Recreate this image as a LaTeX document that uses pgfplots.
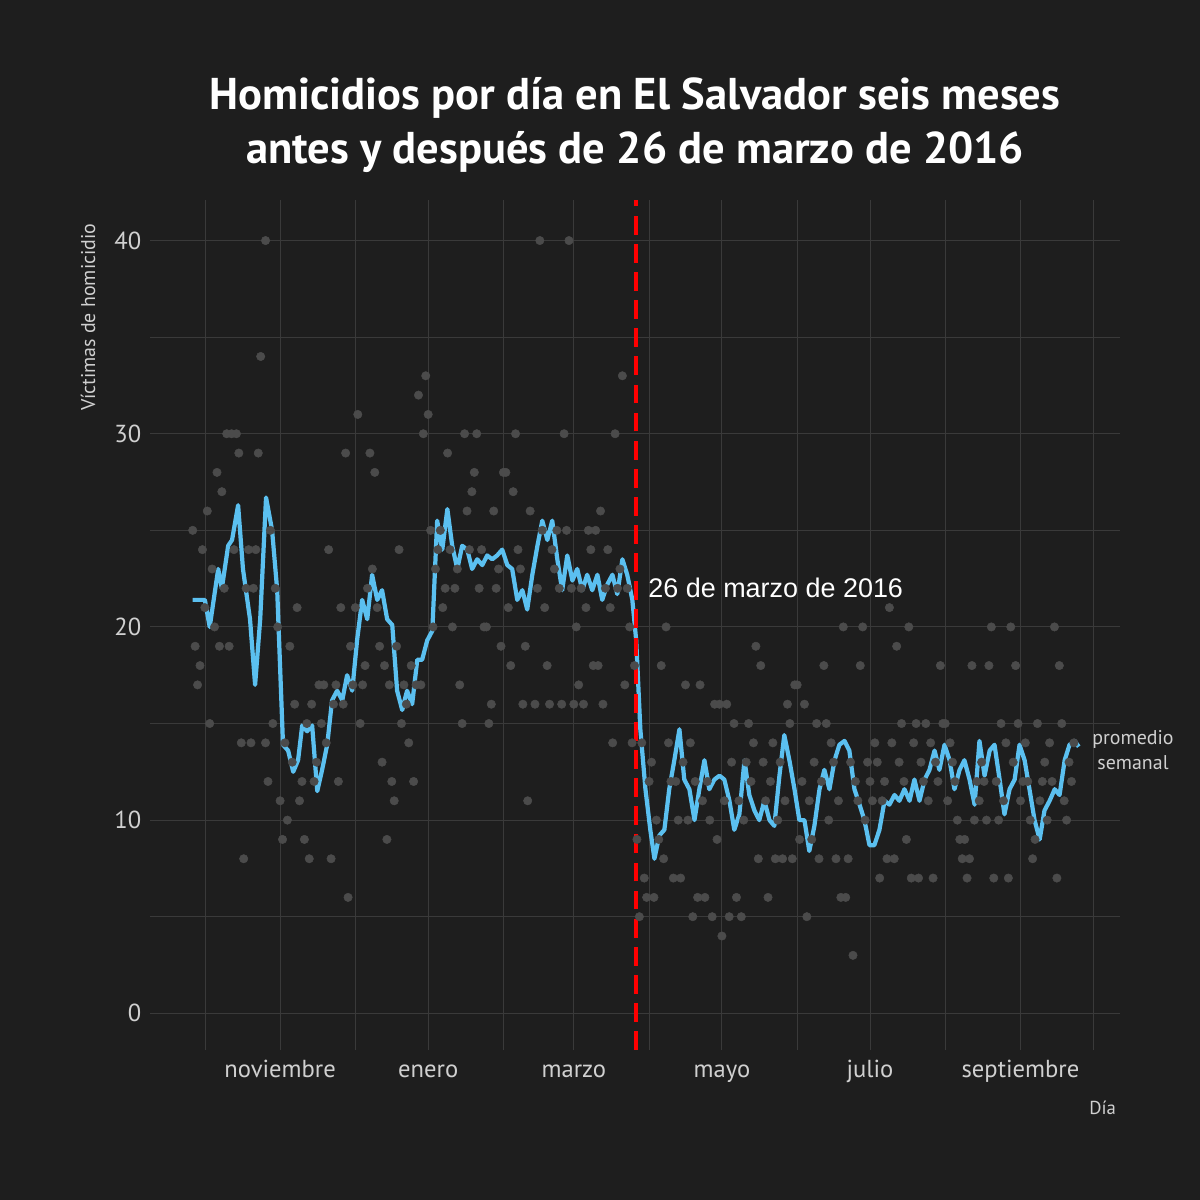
\documentclass[border=0pt]{standalone}
\usepackage{pgfplots}
\pgfplotsset{compat=1.18}
\usepackage{fontspec}
\setmainfont{PT Sans}
\newfontfamily\helv{Liberation Sans}
\definecolor{bg}{HTML}{1E1E1E}
\definecolor{gridc}{HTML}{3A3A3A}
\definecolor{pts}{HTML}{4B4B4B}
\definecolor{lineblue}{HTML}{5BC0F0}
\definecolor{txt}{HTML}{D0D0D0}
\begin{document}
\begin{tikzpicture}
\fill[bg] (0,0) rectangle (360mm,360mm);
\node[white,font=\fontsize{38}{46}\selectfont\bfseries,align=center] at (190.5mm,322.5mm) {Homicidios por día en El Salvador seis meses\\antes y después de 26 de marzo de 2016};
\begin{axis}[at={(45mm,45mm)},anchor=south west,scale only axis,
 width=291mm,height=255mm,
 xmin=-53.6,xmax=346,ymin=-1.9,ymax=42.1,
 axis line style={draw=none},tick style={draw=none},
 grid=both,major grid style={draw=gridc,line width=0.8pt},minor grid style={draw=gridc,line width=0.5pt},
 xtick={0,61,121,182,243,305},
 xticklabels={noviembre,enero,marzo,mayo,julio,septiembre},
 minor xtick={-31,31,92,152,213,274,335},
 ytick={0,10,20,30,40},minor ytick={5,15,25,35},
 ticklabel style={text=txt,font=\fontsize{21}{25}\selectfont},
 /pgf/number format/assume math mode=true,
 yticklabel style={xshift=-4pt},xticklabel style={yshift=-4pt,text height=16pt,text depth=5pt},
 clip=false]
\addplot[only marks,mark=*,mark size=3.6pt,draw=pts,fill=pts] coordinates {
(-36,25)(-35,19)(-34,17)(-33,18)(-32,24)(-31,21)(-30,26)(-29,15)(-28,23)(-27,20)(-26,28)(-25,19)(-24,27)(-23,22)(-22,30)(-21,19)(-20,30)(-19,24)(-18,30)(-17,29)(-16,14)(-15,8)(-14,22)(-13,24)(-12,14)(-11,22)(-10,24)(-9,29)(-8,34)(-6,40)(-6,14)(-5,12)(-4,25)(-3,15)(-2,22)(-1,20)(0,11)(1,9)(2,14)(3,10)(4,19)(5,13)(6,16)(7,21)(8,11)(9,12)(10,9)(11,15)(12,8)(13,16)(14,12)(15,13)(16,17)(17,15)(18,17)(19,14)(20,24)(21,8)(22,16)(23,17)(24,12)(25,21)(26,16)(27,29)(28,6)(29,19)(30,17)(31,21)(32,31)(33,15)(34,17)(35,18)(36,22)(37,29)(38,23)(39,28)(40,21)(41,19)(42,13)(43,18)(44,9)(45,17)(46,12)(47,11)(48,19)(49,24)(50,15)(51,17)(52,16)(53,14)(54,18)(55,12)(56,17)(57,32)(58,17)(59,30)(60,33)(61,31)(62,25)(63,20)(64,23)(65,24)(66,25)(67,21)(68,22)(69,29)(70,24)(71,20)(72,22)(73,23)(74,17)(75,15)(76,30)(77,26)(78,24)(79,27)(80,28)(81,30)(82,22)(83,24)(84,20)(85,20)(86,15)(87,16)(88,26)(89,22)(90,23)(91,19)(92,28)(93,28)(94,21)(95,18)(96,27)(97,30)(98,24)(99,23)(100,16)(101,19)(102,11)(103,26)(105,16)(106,22)(107,40)(108,25)(109,21)(110,18)(111,16)(112,24)(113,23)(114,25)(115,22)(116,16)(117,30)(118,25)(119,40)(120,22)(121,16)(122,20)(123,17)(124,22)(125,16)(126,21)(127,25)(128,24)(129,18)(130,25)(131,18)(132,26)(133,16)(134,22)(135,24)(136,21)(137,14)(138,30)(139,22)(140,23)(141,33)(142,17)(143,22)(144,20)(145,14)(146,18)
(147,9)(148,5)(149,14)(150,7)(151,6)(152,12)(153,13)(154,6)(155,10)(156,9)(157,18)(158,8)(159,20)(160,14)(161,12)(162,7)(163,12)(164,10)(165,7)(166,13)(167,17)(168,10)(169,14)(170,5)(171,12)(172,6)(173,17)(174,11)(175,6)(176,12)(177,10)(178,5)(179,16)(180,9)(181,16)(182,4)(183,11)(184,16)(185,5)(186,13)(187,15)(188,6)(189,11)(190,5)(191,10)(192,13)(193,15)(194,12)(195,14)(196,19)(197,8)(198,18)(199,13)(200,11)(201,6)(202,12)(203,14)(204,8)(205,10)(206,13)(207,8)(208,11)(209,16)(210,15)(211,8)(212,17)(213,17)(214,9)(215,12)(216,16)(217,5)(218,11)(219,9)(220,13)(221,15)(222,8)(223,12)(224,18)(225,15)(226,10)(227,14)(228,13)(229,8)(230,11)(231,6)(232,20)(233,6)(234,8)(235,13)(236,3)(237,12)(238,11)(239,18)(240,20)(241,10)(242,13)(243,12)(244,11)(245,14)(246,13)(247,7)(248,11)(249,12)(250,8)(251,21)(252,14)(253,8)(254,19)(255,13)(256,15)(257,12)(258,9)(259,20)(260,7)(261,14)(262,15)(263,7)(264,13)(265,12)(266,15)(267,11)(268,14)(269,7)(270,13)(271,12)(272,18)(273,15)(274,15)(275,11)(276,14)(277,13)(278,12)(279,10)(280,9)(281,8)(282,9)(283,7)(284,8)(285,18)(286,10)(287,12)(288,11)(289,13)(290,12)(291,10)(292,18)(293,20)(294,7)(295,12)(296,10)(297,15)(298,11)(299,14)(300,7)(301,20)(302,13)(303,18)(304,15)(305,11)(306,12)(307,14)(308,12)(309,10)(310,8)(311,9)(312,15)(313,11)(314,12)(315,13)(316,10)(317,14)(318,12)(319,20)(320,7)(321,18)(322,15)(323,11)(324,10)(325,13)(326,12)(327,14)
};
\addplot[lineblue,line width=3.6pt,line join=round] coordinates {
(-36,21.4)(-31,21.4)(-29,20)(-25.5,23)(-24,22)(-21.4,24.2)(-19.8,24.5)(-17.3,26.3)(-15.3,23)(-12.4,20.4)(-10.3,17)(-8.2,20.4)(-5.8,26.7)(-3.3,25)(-1.2,21.9)(1.2,13.9)(3.3,13.6)(5.4,12.5)(7.4,13.1)(9.1,14.9)(11.1,14.6)(13.2,14.9)(15.3,11.5)(17.3,12.6)(19.4,13.9)(21.4,16.2)(23.5,16.7)(25.6,16.2)(27.6,17.5)(29.7,16.7)(31.7,19.3)(33.8,21.4)(35.9,20.4)(37.9,22.7)(40,21.4)(42,21.9)(44.1,20.4)(46.2,20.1)(48.2,16.7)(50.3,15.7)(52.3,16.7)(54.4,16)(56.5,18.3)(58.5,18.3)(60.6,19.3)(62.7,19.8)(64.7,25.5)(66.8,24)(68.9,26.1)(70.9,24.2)(73,23)(75,24.2)(77.1,24)(79.1,23)(81.2,23.5)(83.3,23.2)(85.3,23.7)(87.4,23.5)(89.4,23.7)(91.5,24)(93.6,23.2)(95.6,23)(97.7,21.4)(99.8,21.9)(101.8,20.9)(103.9,22.7)(106,24.2)(108,25.5)(110.1,24.5)(112.1,25.5)(114.2,23.5)(116.2,21.9)(118.3,23.7)(120.4,22.4)(122.4,23)(124.5,21.9)(126.5,22.7)(128.6,21.9)(130.7,22.7)(132.7,21.4)(134.8,22.2)(136.9,22.7)(138.9,21.7)(141,23.5)(143,22.7)(145.1,21.4)(146.7,19.3)(148.4,14.7)(150.5,11.6)(152.5,9.5)(154.2,8)(156.2,9.2)(158.3,9.5)(160.3,11.6)(162.4,13.1)(164.5,14.7)(166.5,12.1)(168.6,11.6)(170.7,10)(172.7,11.6)(174.8,13.1)(176.8,11.6)(178.9,12.1)(181,12.3)(183,12.1)(185.1,11)(187.1,9.5)(189.2,10.3)(191.3,13.1)(193.3,11.3)(195.4,10.5)(197.4,10)(199.5,11)(201.6,10)(203.6,9.7)(205.7,12.3)(207.7,14.4)(209.8,13.1)(211.9,11.6)(213.9,10)(216,10)(218,8.4)(220.1,9.7)(222.2,11.6)(224.2,12.6)(226.3,11.6)(228.4,13.1)(230.4,13.9)(232.5,14.1)(234.5,13.6)(236.6,11.6)(238.7,10.8)(240.7,10)(242.8,8.7)(244.8,8.7)(246.9,9.5)(249,11)(251,10.8)(253.1,11.3)(255.1,11)(257.2,11.6)(259.3,11)(261.3,12.1)(263.4,11)(265.5,12.1)(267.5,12.6)(269.6,13.6)(271.6,12.6)(273.7,13.9)(275.8,13.1)(277.8,11.6)(279.9,12.6)(281.9,13.1)(284,12.1)(286.1,10.8)(288.1,14.1)(290.2,12.3)(292.3,13.6)(294.3,13.9)(296.4,12.1)(298.4,10.3)(300.5,11.6)(302.6,12.1)(304.6,13.9)(306.7,13.1)(308.7,11.6)(310.8,10)(312.9,9)(314.9,10.5)(317,11)(319.1,11.6)(321.1,11.3)(323.2,13.1)(325.2,13.9)(327.3,14.1)(329,13.8)
};
\draw[red,line width=3.5pt,dash pattern=on 16pt off 8pt] (axis cs:146.7,-1.9) -- (axis cs:146.7,42.1);
\node[anchor=west,white,font=\helv\fontsize{23}{27}\selectfont] at (axis cs:150,22) {26 de marzo de 2016};
\end{axis}
\node[txt,font=\fontsize{17}{21}\selectfont,align=center] at (339.9mm,135mm) {promedio\\semanal};
\node[txt,font=\fontsize{16}{19}\selectfont,anchor=east] at (336mm,27.6mm) {Día};
\node[txt,font=\fontsize{17}{20}\selectfont,rotate=90] at (26.4mm,264.9mm) {Víctimas de homicidio};
\end{tikzpicture}
\end{document}
